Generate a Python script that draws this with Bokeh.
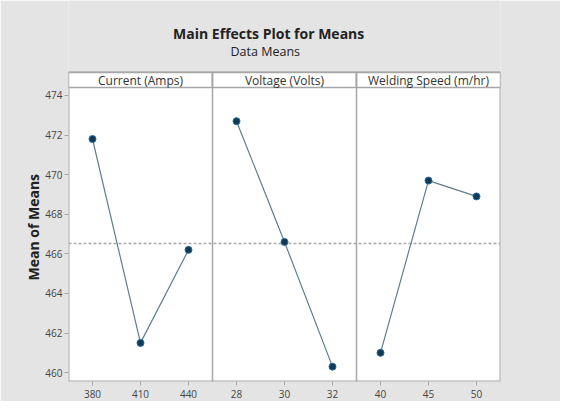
import numpy as np
from bokeh.plotting import figure
from bokeh.models import Range1d, FixedTicker, Label, Title
from bokeh.embed import file_html
from bokeh.resources import INLINE

factors = ["Current (Amps)", "Voltage (Volts)", "Welding Speed (m/hr)"]
current_levels = ["380", "410", "440"]
current_means = [471.8, 461.5, 466.2]
voltage_levels = ["28", "30", "32"]
voltage_means = [472.7, 466.6, 460.3]
speed_levels = ["40", "45", "50"]
speed_means = [461.0, 469.7, 468.9]
y_ticks = [460, 462, 464, 466, 468, 470, 472, 474]

levels = [current_levels, voltage_levels, speed_levels]
means = [current_means, voltage_means, speed_means]
grand_mean = float(np.mean(np.concatenate([np.array(m) for m in means])))

FONT = "Open Sans"
GRAY = "#a6a6a6"
BG = "#e4e4e4"
y_lo, strip_lo, strip_hi = 459.55, 474.4, 475.16
px = (strip_hi - y_lo) / 309.0  # data units per pixel
y_top = strip_hi + 72 * px

p = figure(width=560, height=401, output_backend="svg", toolbar_location=None,
           x_range=Range1d(-0.5, 8.5), y_range=Range1d(y_lo, y_top),
           min_border_left=68, min_border_right=60, min_border_top=0, min_border_bottom=20)
p.background_fill_color = BG
p.border_fill_color = BG
p.outline_line_color = None
p.xgrid.visible = False
p.ygrid.visible = False

# plotting panel (white) with border
p.quad(left=-0.5, right=8.5, bottom=y_lo, top=strip_hi,
       fill_color="white", line_color=GRAY, line_width=2)

# titles
p.add_layout(Label(x=3.67, y=strip_hi + 39 * px, text="Main Effects Plot for Means",
                   text_align="center", text_baseline="middle", text_font=FONT,
                   text_font_size="14px", text_font_style="bold", text_color="#222222"))
p.add_layout(Label(x=3.6, y=strip_hi + 21 * px, text="Data Means",
                   text_align="center", text_baseline="middle", text_font=FONT,
                   text_font_size="12.5px", text_color="#222222"))

# strips
for i, f in enumerate(factors):
    p.quad(left=3 * i - 0.5, right=3 * i + 2.5, bottom=strip_lo, top=strip_hi,
           fill_color="white", line_color=GRAY, line_width=1.5)
    p.add_layout(Label(x=3 * i + 1, y=(strip_lo + strip_hi) / 2, text=f,
                       text_align="center", text_baseline="middle",
                       text_font=FONT, text_font_size="12px", text_color="#333333"))
    if i > 0:
        p.segment(x0=3 * i - 0.5, x1=3 * i - 0.5, y0=y_lo, y1=strip_hi,
                  line_color=GRAY, line_width=1.5)

p.segment(x0=-0.5, x1=8.5, y0=grand_mean, y1=grand_mean, line_color="#a8a8a8",
          line_width=1.5, line_dash="3 2")

tick_pos = []
tick_lab = {}
for i in range(3):
    xs = [3 * i + j for j in range(3)]
    p.line(xs, means[i], line_color="#5f7d8c", line_width=1.2)
    p.scatter(xs, means[i], size=7, fill_color="#0e3a5a", line_color="#2a6a9a", line_width=1)
    for j, lv in enumerate(levels[i]):
        tick_pos.append(3 * i + j)
        tick_lab[3 * i + j] = lv

p.xaxis.ticker = FixedTicker(ticks=tick_pos)
p.xaxis.major_label_overrides = tick_lab
p.xaxis.major_label_standoff = 4
p.yaxis.ticker = FixedTicker(ticks=y_ticks)
p.yaxis.major_label_standoff = 2
for ax in [p.xaxis, p.yaxis]:
    ax.axis_line_color = None
    ax.major_tick_line_color = GRAY
    ax.major_tick_out = 4
    ax.major_tick_in = 0
    ax.minor_tick_line_color = None
    ax.major_label_text_font = FONT
    ax.major_label_text_font_size = "10px"
    ax.major_label_text_color = "#444444"

ylab = Title(text="Mean of Means", align="left", offset=101, standoff=0,
             text_font=FONT, text_font_size="14px", text_font_style="bold",
             text_color="#222222")
p.add_layout(ylab, "left")

open("out.html", "w").write(file_html(p, INLINE))
